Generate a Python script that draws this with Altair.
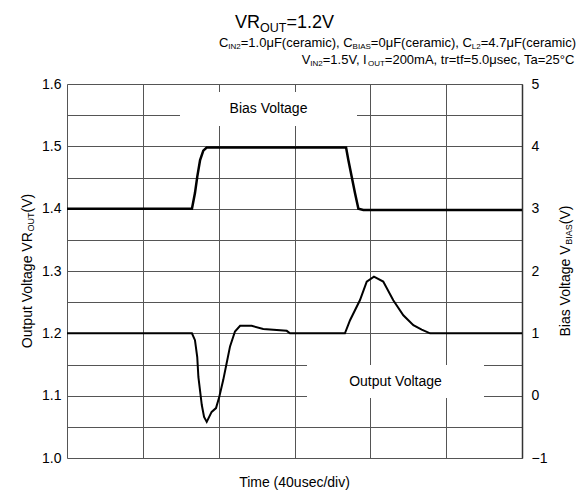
import altair as alt
import pandas as pd

# ---------------- data ----------------
out_t = [0, 65.9, 67.5, 68.7, 69.3, 71.1, 72.3, 73.7, 76.3, 78.6, 80.3, 82.4, 84.2, 86.0,
         88.6, 91.3, 97.4, 103.5, 115.9, 117.6, 146.6, 149.3, 154.5, 158.1, 161.9, 166.8,
         172.1, 177.4, 182.7, 187.1, 191.5, 240]
out_v = [1.2, 1.2, 1.189, 1.162, 1.130, 1.085, 1.066, 1.058, 1.074, 1.080, 1.098, 1.125,
         1.152, 1.179, 1.203, 1.212, 1.212, 1.207, 1.204, 1.2, 1.2, 1.221, 1.253, 1.283,
         1.291, 1.283, 1.253, 1.229, 1.213, 1.206, 1.2, 1.2]

bias_t = [0, 65.9, 67.5, 68.7, 70.2, 71.9, 73.7, 147.2, 148.4, 150.2, 151.9, 153.7, 156.3, 240]
bias_v = [3.0, 3.0, 3.25, 3.51, 3.78, 3.93, 3.98, 3.98, 3.78, 3.51, 3.25, 3.0, 2.98, 2.98]

x_grid = [0, 40, 80, 120, 160, 200, 240]
left_ticks = [1.0, 1.05, 1.1, 1.15, 1.2, 1.25, 1.3, 1.35, 1.4, 1.45, 1.5, 1.55, 1.6]
right_ticks = [-1, 0, 1, 2, 3, 4, 5]

FONT = "Liberation Sans"
W, H = 455, 374

# Arial / Liberation Sans advance widths (per 1000 em)
AW = {' ': 278, '(': 333, ')': 333, ',': 278, '.': 278, '=': 584, '/': 278, '-': 333,
      'A': 667, 'B': 667, 'C': 722, 'F': 611, 'I': 278, 'L': 556, 'N': 722, 'O': 778,
      'R': 722, 'S': 667, 'T': 611, 'U': 722, 'V': 667, 'a': 556, 'c': 500, 'd': 556,
      'e': 556, 'f': 278, 'g': 556, 'i': 222, 'l': 222, 'm': 833, 'n': 556, 'o': 556,
      'p': 556, 'r': 333, 's': 500, 't': 278, 'u': 556, 'v': 500, 'μ': 576, '°': 400}
for d in "0123456789":
    AW[d] = 556


def tw(s, size):
    return sum(AW.get(c, 556) for c in s) * size / 1000.0


dummy = pd.DataFrame({"a": [0]})


def txt(text, x, y, size, angle=0, align="left", baseline="alphabetic"):
    kw = dict(font=FONT, fontSize=size, align=align, baseline=baseline, color="black")
    if angle:
        kw["angle"] = angle
    return alt.Chart(dummy).mark_text(**kw).encode(
        x=alt.value(x), y=alt.value(y), text=alt.value(text))


def hseq(segs, x0, y0, anchor="left"):
    total = sum(tw(t, s) for t, s, _ in segs)
    if anchor == "right":
        x = x0 - total
    elif anchor == "center":
        x = x0 - total / 2
    else:
        x = x0
    out = []
    for t, s, dy in segs:
        out.append(txt(t, x, y0 + dy, s))
        x += tw(t, s)
    return out


def vseq(segs, x0, yc):
    total = sum(tw(t, s) for t, s, _ in segs)
    y = yc + total / 2
    out = []
    for t, s, dx in segs:
        out.append(txt(t, x0 + dx, y, s, angle=270))
        y -= tw(t, s)
    return out


x_enc = alt.X("t:Q", scale=alt.Scale(domain=[0, 240], nice=False, zero=False),
              axis=alt.Axis(values=x_grid, labels=False, ticks=False, domain=False,
                            grid=True, gridColor="#555555", gridWidth=1, title=None))

out_line = alt.Chart(pd.DataFrame({"t": out_t, "v": out_v})).mark_line(
    color="black", strokeWidth=2).encode(
    x=x_enc,
    y=alt.Y("v:Q", scale=alt.Scale(domain=[1.0, 1.6], nice=False, zero=False),
            axis=alt.Axis(orient="left", values=left_ticks, ticks=False, domain=False,
                          grid=True, gridColor="#555555", gridWidth=1,
                          labelExpr="abs(round(datum.value*10) - datum.value*10) < 0.001 ? format(datum.value, '.1f') : ''",
                          labelFont=FONT, labelFontSize=14, labelColor="black",
                          labelPadding=6, title=None)))

bias_line = alt.Chart(pd.DataFrame({"t": bias_t, "v": bias_v})).mark_line(
    color="black", strokeWidth=2.5).encode(
    x=x_enc,
    y=alt.Y("v:Q", scale=alt.Scale(domain=[-1, 5], nice=False, zero=False),
            axis=alt.Axis(orient="right", values=right_ticks, ticks=False, domain=True,
                          domainColor="#333333", domainWidth=1.5, grid=False,
                          labelFont=FONT, labelFontSize=14, labelColor="black",
                          labelPadding=9, title=None)))

box1 = alt.Chart(dummy).mark_rect(color="white").encode(
    x=alt.value(113), x2=alt.value(290), y=alt.value(8), y2=alt.value(42))
box2 = alt.Chart(dummy).mark_rect(color="white").encode(
    x=alt.value(240), x2=alt.value(417), y=alt.value(281), y2=alt.value(314))

texts = []
texts.append(txt("Bias Voltage", 201.5, 25, 14, align="center", baseline="middle"))
texts.append(txt("Output Voltage", 328.5, 297.5, 14, align="center", baseline="middle"))
texts.append(txt("Time (40usec/div)", W / 2, 403, 14, align="center"))
texts += hseq([("VR", 18, 0), ("OUT", 12.5, 4), ("=1.2V", 18, 0)], 168, -56)
texts += hseq([("C", 13, 0), ("IN2", 8, 2), ("=1.0μF(ceramic), C", 13, 0),
               ("BIAS", 8, 2), ("=0μF(ceramic), C", 13, 0), ("L2", 8, 2),
               ("=4.7μF(ceramic)", 13, 0)], 509, -37, anchor="right")
texts += hseq([("V", 13, 0), ("IN2", 8, 2), ("=1.5V, I", 13, 0), ("OUT", 8, 2),
               ("=200mA, tr=tf=5.0μsec, Ta=25°C", 13, 0)], 509, -20, anchor="right")
texts += vseq([("Output Voltage VR", 14, 0), ("OUT", 9, 2), ("(V)", 14, 0)], -35, H / 2)
texts += vseq([("Bias Voltage V", 14, 0), ("BIAS", 9, 2), ("(V)", 14, 0)], 503, H / 2)

chart = alt.layer(box1, box2, out_line, bias_line, *texts).resolve_scale(
    y="independent").properties(
    width=W, height=H,
    autosize=alt.AutoSizeParams(type="none"),
    padding={"left": 59, "top": 76, "right": 56, "bottom": 34},
).configure_view(stroke="#808080", strokeWidth=1).configure(background="white")

chart.save("out.html", embed_options={"renderer": "svg", "actions": False})
